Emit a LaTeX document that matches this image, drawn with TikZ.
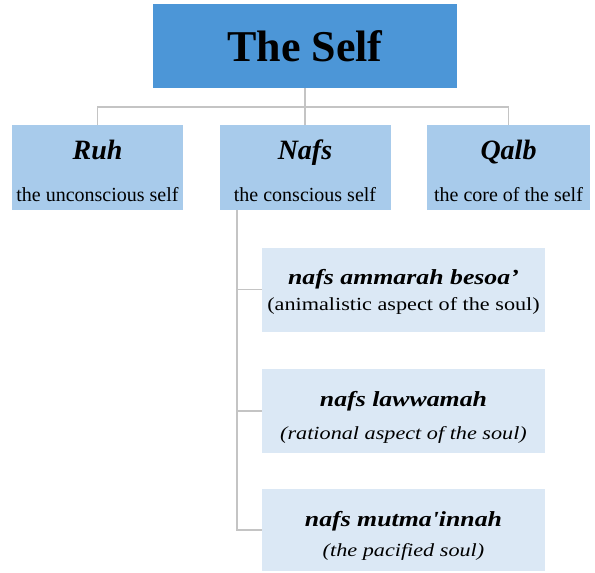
\documentclass[tikz,border=0pt]{standalone}
\usepackage{fontspec}
\setmainfont{Liberation Serif}
\newfontfamily\soulfont[FakeStretch=1.2]{Liberation Serif}
\usetikzlibrary{positioning}

\definecolor{selfblue}{HTML}{4C96D7}
\definecolor{partblue}{HTML}{A8CBEB}
\definecolor{stageblue}{HTML}{DBE8F5}
\definecolor{linkgray}{HTML}{C4C4C4}

\tikzset{
  selfbox/.style={fill=selfblue, minimum width=304pt, minimum height=84pt, inner sep=0pt,
    font=\fontsize{44}{48}\selectfont\bfseries},
  partbox/.style={fill=partblue, minimum width=171pt, minimum height=85pt, inner sep=0pt,
    align=center, font=\fontsize{20}{22}\selectfont},
  stagebox/.style={fill=stageblue, minimum width=283pt, minimum height=84pt, inner sep=0pt,
    align=center, font=\soulfont\fontsize{18.5}{21}\selectfont},
  link/.style={draw=linkgray, line width=1.1pt},
}
\newcommand{\selfpart}[1]{{\fontsize{28}{30}\selectfont\bfseries\itshape\rule{0pt}{27pt}#1}}
\newcommand{\stagename}[2][0pt]{{\fontsize{21.5}{24}\selectfont\bfseries\itshape\rule{0pt}{\dimexpr19pt+#1\relax}#2}}

\begin{document}
\begin{tikzpicture}[x=1pt,y=-1pt]
  \useasboundingbox (0,0) rectangle (595,573);

  \node[selfbox] (Self) at (305,46) {The Self};

  \node[partbox] (Ruh) at (97.5,167.5) {\selfpart{Ruh}\\[20pt] the unconscious self};
  \node[partbox] (Nafs) at (305,167.5) {\selfpart{Nafs}\\[20pt] the conscious self};
  \node[partbox, minimum width=163pt] (Qalb) at (508.5,167.5) {\selfpart{Qalb}\\[20pt] the core of the self};

  \node[stagebox] (Ammarah) at (403.5,289.5) {\stagename{nafs ammarah besoa’}\\[5pt] (animalistic aspect of the soul)};
  \node[stagebox] (Lawwamah) at (403.5,411) {\stagename[8pt]{nafs lawwamah}\\[12pt] \itshape (rational aspect of the soul)};
  \node[stagebox, minimum height=82pt] (Mutmainnah) at (403.5,530) {\stagename[8pt]{nafs mutma'innah}\\[9pt] \itshape (the pacified soul)};

  % tree lines
  \coordinate (bus) at (305,107);
  \coordinate (trunk) at (237,0);
  \draw[link] (Self.south) -- (bus) -- (Nafs.north);
  \draw[link] (bus) -| (Ruh.north);
  \draw[link] (bus) -| (Qalb.north);

  \draw[link] (Nafs.south -| trunk) |- (Mutmainnah.west);
  \draw[link] (Nafs.south -| trunk) |- (Ammarah.west);
  \draw[link] (Nafs.south -| trunk) |- (Lawwamah.west);
\end{tikzpicture}
\end{document}
